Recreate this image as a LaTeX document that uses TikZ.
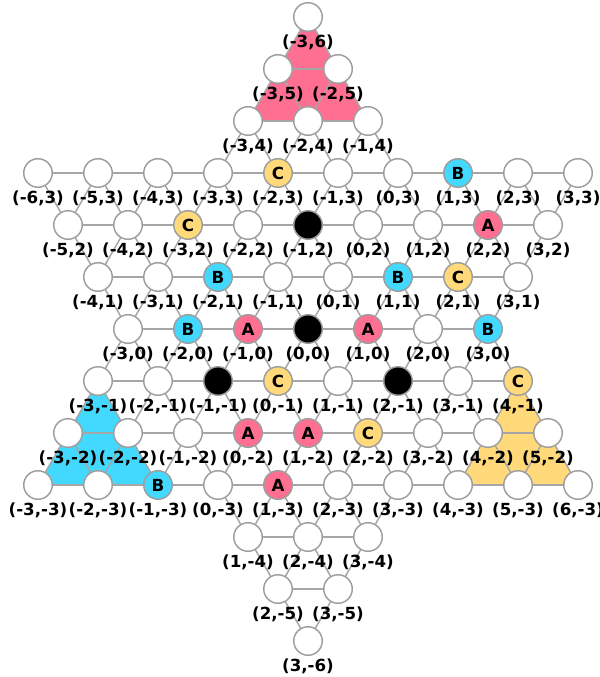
\documentclass[tikz,border=0pt]{standalone}
\usepackage{fontspec}
\setmainfont{DejaVu Sans}
\pgfdeclarelayer{fills}
\pgfdeclarelayer{edges}
\pgfsetlayers{fills,edges,main}
\definecolor{cA}{HTML}{FF6F91}
\definecolor{cB}{HTML}{43D9FF}
\definecolor{cC}{HTML}{FFD97A}
\definecolor{rim}{HTML}{9E9E9E}
\definecolor{edgec}{HTML}{A6A6A6}
\tikzset{
  pt/.style={circle, draw=rim, line width=1.1pt, minimum size=21.4pt, inner sep=0pt,
    font=\bfseries\fontsize{12.5}{14}\selectfont},
  stW/.style={fill=white}, stA/.style={fill=cA}, stB/.style={fill=cB},
  stC/.style={fill=cC}, stK/.style={fill=black},
  lbl/.style={font=\bfseries\fontsize{12.5}{14}\selectfont, inner sep=0pt},
  edge/.style={draw=edgec, line width=1.1pt},
  zone/.style={draw=none}
}
\def\txA{A}\def\txB{B}\def\txC{C}\def\txK{}\def\txW{}
\newcommand\setst[3]{\expandafter\gdef\csname st@#1@#2\endcsname{#3}}
\setst{2}{2}{A}\setst{-1}{0}{A}\setst{1}{0}{A}\setst{0}{-2}{A}\setst{1}{-2}{A}\setst{1}{-3}{A}
\setst{1}{3}{B}\setst{-2}{1}{B}\setst{1}{1}{B}\setst{-2}{0}{B}\setst{3}{0}{B}\setst{-1}{-3}{B}
\setst{-2}{3}{C}\setst{-3}{2}{C}\setst{2}{1}{C}\setst{0}{-1}{C}\setst{4}{-1}{C}\setst{2}{-2}{C}
\setst{-1}{2}{K}\setst{0}{0}{K}\setst{-1}{-1}{K}\setst{2}{-1}{K}
\newcommand\tryedge[4]{\ifcsname ex@#3@#4\endcsname\draw[edge] (n#1_#2) -- (n#3_#4);\fi}
\begin{document}
\begin{tikzpicture}[x=0.75pt,y=-0.75pt]
\useasboundingbox (0,0) rectangle (599,677);
\def\rows{6/-3/-3,5/-3/-2,4/-3/-1,3/-6/3,2/-5/3,1/-4/3,0/-3/3,-1/-3/4,-2/-3/5,-3/-3/6,-4/1/3,-5/2/3,-6/3/3}
% nodes
\foreach \r/\qa/\qb in \rows {
  \foreach \q in {\qa,...,\qb} {
    \pgfmathsetmacro\x{308+60*\q+30*\r}
    \pgfmathsetmacro\y{329-52*\r}
    \pgfmathsetmacro\ly{\y+25}
    \expandafter\gdef\csname ex@\q @\r\endcsname{1}
    \ifcsname st@\q @\r\endcsname
      \edef\k{\csname st@\q @\r\endcsname}
    \else
      \def\k{W}
    \fi
    \node[pt, st\k] (n\q_\r) at (\x,\y) {\csname tx\k\endcsname};
    \node[lbl] (l\q_\r) at (\x,\ly) {(\q,\r)};
  }
}
% edges
\begin{pgfonlayer}{edges}
\foreach \r/\qa/\qb in \rows {
  \foreach \q in {\qa,...,\qb} {
    \pgfmathtruncatemacro\qp{\q+1}
    \pgfmathtruncatemacro\rm{\r-1}
    \tryedge{\q}{\r}{\qp}{\r}
    \tryedge{\q}{\r}{\q}{\rm}
    \tryedge{\q}{\r}{\qp}{\rm}
  }
}
\end{pgfonlayer}
% home triangles
\begin{pgfonlayer}{fills}
\fill[zone, cA] (n-3_6.center) -- (n-3_4.center) -- (n-1_4.center) -- cycle;
\fill[zone, cB] (n-3_-1.center) -- (n-3_-3.center) -- (n-1_-3.center) -- cycle;
\fill[zone, cC] (n4_-1.center) -- (n4_-3.center) -- (n6_-3.center) -- cycle;
\end{pgfonlayer}
\end{tikzpicture}
\end{document}
